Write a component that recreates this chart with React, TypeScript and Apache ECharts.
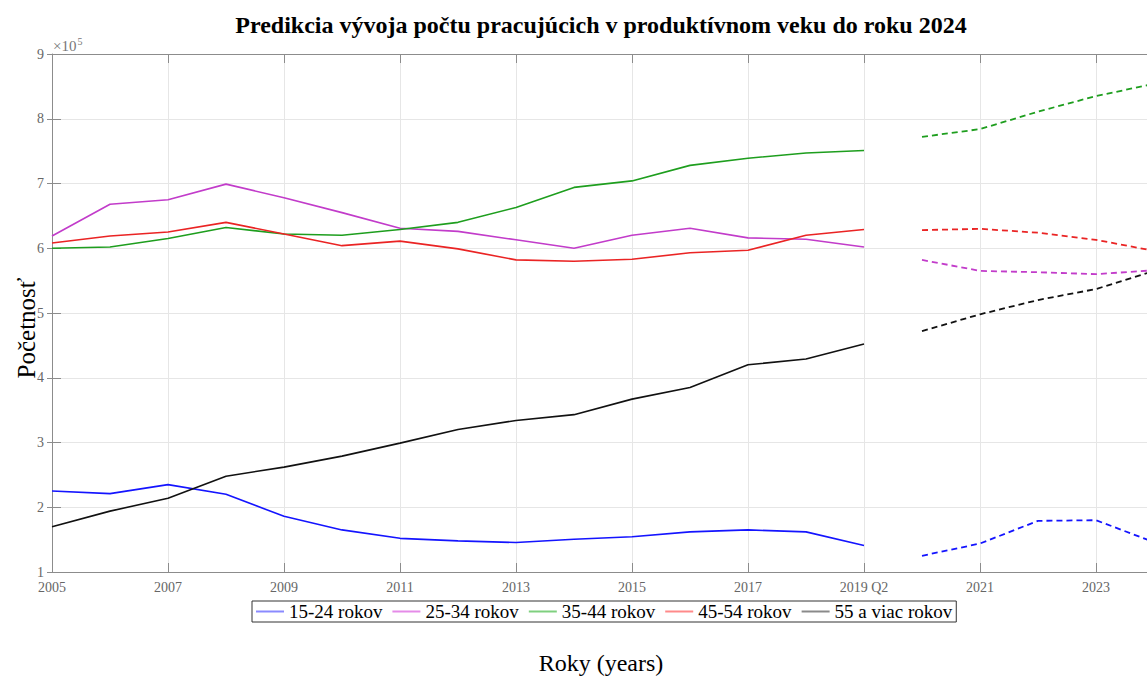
import React, { useEffect, useRef } from "react";
import * as echarts from "echarts";

const years = [2005, 2006, 2007, 2008, 2009, 2010, 2011, 2012, 2013, 2014, 2015, 2016, 2017, 2018, 2019];
const forecastYears = [2020, 2021, 2022, 2023, 2024];

const seriesNames = ["15-24 rokov", "25-34 rokov", "35-44 rokov", "45-54 rokov", "55 a viac rokov"];

const age15_24 = [225000, 221000, 235000, 220000, 186000, 165000, 152000, 148000, 145500, 150500, 154500, 162000, 165000, 162000, 141000];
const age15_24Forecast = [125000, 144000, 179000, 180000, 146000];

const age25_34 = [619000, 668000, 675000, 699000, 678000, 655000, 631000, 626000, 613000, 600000, 620000, 631000, 616000, 614000, 602000];
const age25_34Forecast = [582000, 565000, 563000, 560000, 566000];

const age35_44 = [600000, 602000, 615000, 632000, 622000, 620000, 629000, 640000, 663000, 694000, 704000, 728000, 739000, 747000, 751000];
const age35_44Forecast = [772000, 784000, 811000, 835000, 854000];

const age45_54 = [608000, 619000, 625000, 640000, 622000, 604000, 611000, 599000, 582000, 580000, 583000, 593000, 597000, 620000, 629000];
const age45_54Forecast = [628000, 630000, 624000, 613000, 596000];

const age55plus = [170000, 194000, 214000, 248000, 262000, 279000, 299000, 320000, 334000, 343000, 367000, 385000, 420000, 429000, 452000];
const age55plusForecast = [472000, 498000, 520000, 537000, 565000];

const xTickLabels: Record<number, string> = {
  0: "2005", 2: "2007", 4: "2009", 6: "2011", 8: "2013", 10: "2015", 12: "2017", 14: "2019 Q2", 16: "2021", 18: "2023",
};

const colors = ["#1414ff", "#c23cca", "#1e9e1e", "#ea2424", "#111111"];
const legendColors = ["#8a8aff", "#e58be8", "#7fd07f", "#ff8a8a", "#8a8a8a"];

const FONT = "'Liberation Serif', 'DejaVu Serif', serif";

export default function App() {
  const ref = useRef<HTMLDivElement>(null);

  useEffect(() => {
    if (!ref.current) return;
    const chart = echarts.init(ref.current, null, { renderer: "svg" });

    const hist = [age15_24, age25_34, age35_44, age45_54, age55plus];
    const fc = [age15_24Forecast, age25_34Forecast, age35_44Forecast, age45_54Forecast, age55plusForecast];
    const base = years[0];

    const series: any[] = [];
    hist.forEach((vals, i) => {
      series.push({
        name: seriesNames[i],
        type: "line",
        data: vals.map((v, k) => [years[k] - base, v]),
        showSymbol: false,
        symbol: "none",
        lineStyle: { color: colors[i], width: 1.6 },
        itemStyle: { color: colors[i] },
        z: 3,
      });
    });
    fc.forEach((vals, i) => {
      series.push({
        name: seriesNames[i],
        type: "line",
        data: vals.map((v, k) => [forecastYears[k] - base, v]),
        showSymbol: false,
        symbol: "none",
        lineStyle: { color: colors[i], width: 1.8, type: [6, 4] },
        itemStyle: { color: colors[i] },
        z: 3,
      });
    });

    const xMax = (1147 - 52) / 58;

    chart.setOption({
      animation: false,
      backgroundColor: "#ffffff",
      grid: { left: 52, top: 54, right: 0, bottom: 105, containLabel: false },
      xAxis: [
        {
          type: "value",
          min: 0,
          max: xMax,
          interval: 2,
          axisLine: { show: true, lineStyle: { color: "#8c8c8c", width: 1 } },
          axisTick: { show: true, inside: true, length: 9, lineStyle: { color: "#8c8c8c" } },
          axisLabel: {
            color: "#666666",
            fontFamily: FONT,
            fontSize: 14,
            margin: 8,
            showMaxLabel: false,
            formatter: (v: number) => (xTickLabels[Math.round(v)] !== undefined && Math.abs(v - Math.round(v)) < 1e-6 ? xTickLabels[Math.round(v)] : ""),
          },
          splitLine: { show: true, lineStyle: { color: "#e6e6e6", width: 1 } },
        },
        {
          type: "value",
          position: "top",
          min: 0,
          max: xMax,
          interval: 2,
          axisLine: { show: true, onZero: false, lineStyle: { color: "#8c8c8c", width: 1 } },
          axisTick: { show: true, inside: true, length: 9, lineStyle: { color: "#8c8c8c" } },
          axisLabel: { show: false },
          splitLine: { show: false },
        },
      ],
      yAxis: [
        {
          type: "value",
          min: 100000,
          max: 900000,
          interval: 100000,
          axisLine: { show: true, lineStyle: { color: "#8c8c8c", width: 1 } },
          axisTick: { show: true, inside: true, length: 9, lineStyle: { color: "#8c8c8c" } },
          axisLabel: {
            color: "#666666",
            fontFamily: FONT,
            fontSize: 14,
            margin: 8,
            formatter: (v: number) => String(Math.round(v / 100000)),
          },
          splitLine: { show: true, lineStyle: { color: "#e6e6e6", width: 1 } },
        },
        {
          type: "value",
          position: "right",
          min: 100000,
          max: 900000,
          interval: 100000,
          axisLine: { show: false },
          axisTick: { show: true, inside: true, length: 5, lineStyle: { color: "#8c8c8c" } },
          axisLabel: { show: false },
          splitLine: { show: false },
        },
      ],
      legend: {
        left: 252,
        top: 601,
        orient: "horizontal",
        padding: [1, 4, 1, 4],
        itemGap: 10,
        itemWidth: 28,
        itemHeight: 2,
        icon: "rect",
        borderColor: "#333333",
        borderWidth: 1,
        backgroundColor: "#ffffff",
        textStyle: { color: "#000000", fontFamily: FONT, fontSize: 19 },
        data: seriesNames.map((n, i) => ({ name: n, itemStyle: { color: legendColors[i] } })),
      },
      graphic: [
        {
          type: "text",
          x: 601,
          y: 25,
          style: {
            text: "Predikcia vývoja počtu pracujúcich v produktívnom veku do roku 2024",
            fontFamily: FONT,
            fontSize: 24,
            fontWeight: "bold",
            fill: "#000000",
            align: "center",
            verticalAlign: "middle",
          },
        },
        {
          type: "text",
          x: 53,
          y: 55,
          style: {
            text: "×10{sup|5}",
            fontFamily: FONT,
            fontSize: 15,
            fill: "#777777",
            align: "left",
            verticalAlign: "bottom",
            rich: { sup: { fontSize: 10, fontFamily: FONT, fill: "#777777", verticalAlign: "top", padding: [0, 0, 9, 1] } },
          },
        },
        {
          type: "text",
          x: 26,
          y: 328,
          rotation: Math.PI / 2,
          style: {
            text: "Početnosť",
            fontFamily: FONT,
            fontSize: 25,
            fill: "#000000",
            align: "center",
            verticalAlign: "middle",
          },
        },
        {
          type: "text",
          x: 601,
          y: 663,
          style: {
            text: "Roky (years)",
            fontFamily: FONT,
            fontSize: 24,
            fill: "#000000",
            align: "center",
            verticalAlign: "middle",
          },
        },
      ],
      series,
    });

    return () => chart.dispose();
  }, []);

  return <div ref={ref} style={{ position: "absolute", left: 0, top: 0, width: 1147, height: 677 }} />;
}
